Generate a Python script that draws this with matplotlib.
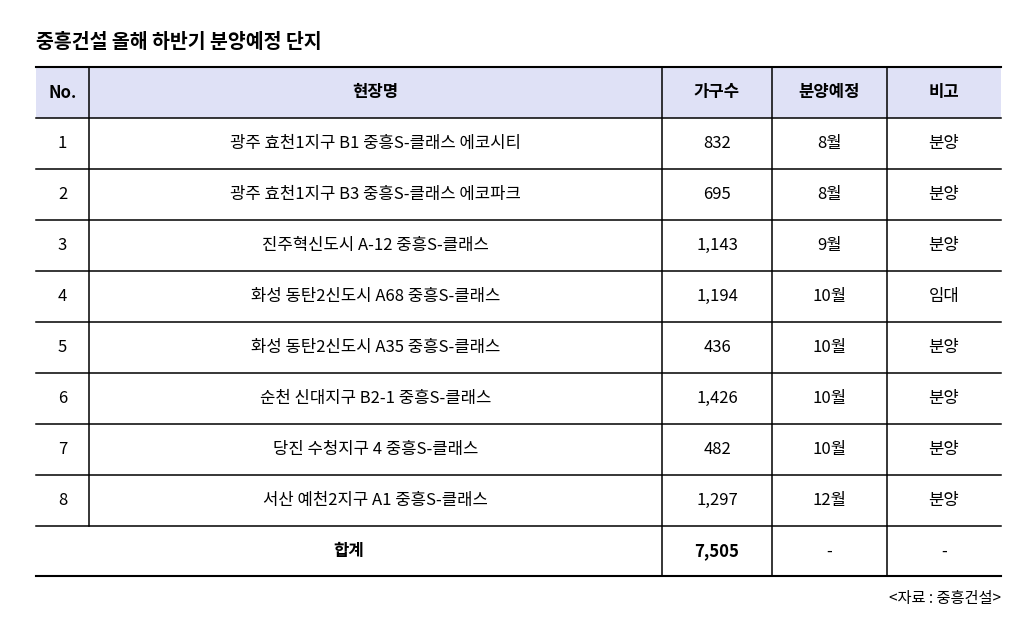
import matplotlib.pyplot as plt

plt.rcParams['font.family'] = ['Noto Sans CJK KR', 'DejaVu Sans']

headers = ['No.', '현장명', '가구수', '분양예정', '비고']
nos = ['1', '2', '3', '4', '5', '6', '7', '8']
sites = ['광주 효천1지구 B1 중흥S-클래스 에코시티', '광주 효천1지구 B3 중흥S-클래스 에코파크',
         '진주혁신도시 A-12 중흥S-클래스', '화성 동탄2신도시 A68 중흥S-클래스',
         '화성 동탄2신도시 A35 중흥S-클래스', '순천 신대지구 B2-1 중흥S-클래스',
         '당진 수청지구 4 중흥S-클래스', '서산 예천2지구 A1 중흥S-클래스']
units = ['832', '695', '1,143', '1,194', '436', '1,426', '482', '1,297']
months = ['8월', '8월', '9월', '10월', '10월', '10월', '10월', '12월']
notes = ['분양', '분양', '분양', '임대', '분양', '분양', '분양', '분양']
total = ['합계', '7,505', '-', '-']

W, H = 1024, 643
fig = plt.figure(figsize=(W / 100, H / 100), dpi=100)
ax = fig.add_axes([0, 0, 1, 1])
ax.set_xlim(0, W)
ax.set_ylim(H, 0)
ax.axis('off')

cols = [36, 89, 662, 772, 887, 1001]
rows = [67, 118, 169, 220, 271, 322, 373, 424, 475, 526, 576]

ax.text(36, 43, '중흥건설 올해 하반기 분양예정 단지', fontsize=14, fontweight='bold', va='center', ha='left')
ax.add_patch(plt.Rectangle((cols[0], rows[0]), cols[-1] - cols[0], rows[1] - rows[0],
                           facecolor='#dfe1f6', edgecolor='none'))
for i, y in enumerate(rows):
    ax.plot([cols[0], cols[-1]], [y, y], color='black', lw=1.5 if i in (0, len(rows) - 1) else 1.1)
# first divider stops above the merged total row
ax.plot([cols[1], cols[1]], [rows[0], rows[-2]], color='black', lw=1.1)
for x in cols[2:-1]:
    ax.plot([x, x], [rows[0], rows[-1]], color='black', lw=1.1)
cx = [(cols[i] + cols[i + 1]) / 2 for i in range(5)]
for j, h in enumerate(headers):
    ax.text(cx[j], (rows[0] + rows[1]) / 2, h, ha='center', va='center', fontsize=12, fontweight='bold')
for i in range(len(nos)):
    ym = (rows[i + 1] + rows[i + 2]) / 2
    for j, v in enumerate([nos[i], sites[i], units[i], months[i], notes[i]]):
        ax.text(cx[j], ym, v, ha='center', va='center', fontsize=12)
ym = (rows[-2] + rows[-1]) / 2
ax.text((cols[0] + cols[2]) / 2, ym, total[0], ha='center', va='center', fontsize=12, fontweight='bold')
for j, v in enumerate(total[1:]):
    ax.text(cx[j + 2], ym, v, ha='center', va='center', fontsize=12, fontweight='bold' if j == 0 else 'normal')
ax.text(1001, 598, '<자료 : 중흥건설>', ha='right', va='center', fontsize=11)

fig.savefig('out.png', dpi=100)
